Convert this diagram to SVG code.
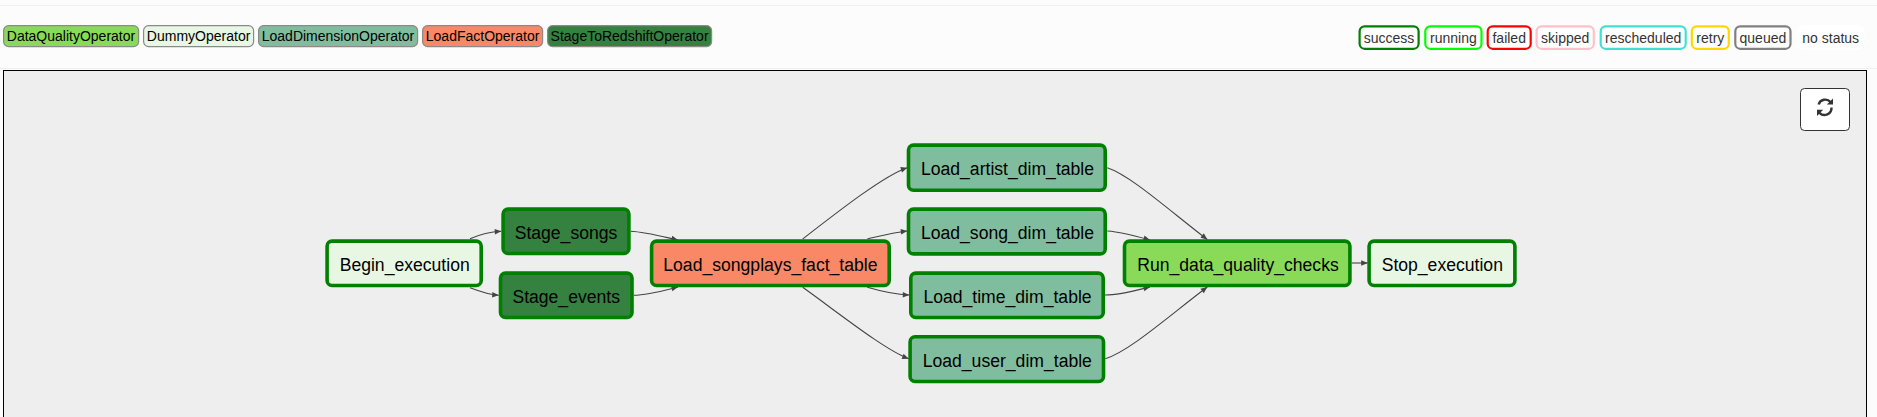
<svg xmlns="http://www.w3.org/2000/svg" width="1877" height="417" viewBox="0 0 1877 417">
<style>
text{font-family:"Liberation Sans",Arial,sans-serif}
.op{stroke:#8a8a8a;stroke-width:1.2}
.opt{font-size:14px;fill:#000;text-anchor:middle}
.st{fill:#fff;stroke-width:2.2}
.stt{font-size:14px;fill:#333;text-anchor:middle}
.n rect{stroke:#008000;stroke-width:3.6}
.n text{font-size:17.6px;fill:#000;text-anchor:middle}
.e{fill:none;stroke:#444;stroke-width:1.1;marker-end:url(#arr)}
.dum{fill:#e8f7e4}.dim{fill:#80bd9e}.fact{fill:#f98866}.stage{fill:#358140}.dq{fill:#89da59}
</style>
<defs>
<marker id="arr" markerUnits="userSpaceOnUse" markerWidth="8" markerHeight="8" viewBox="0 0 8 8" refX="7.5" refY="4" orient="auto"><path d="M1 1.2 L7.5 4 L1 6.8 Z" fill="#444"/></marker>
</defs>
<rect width="1877" height="417" fill="#fcfcfc"/>
<rect x="0" y="5" width="1877" height="1" fill="#f0f0f0"/>
<rect x="0" y="68" width="1877" height="1" fill="#f0f0f0"/>
<rect x="3.5" y="70.5" width="1863" height="360" fill="#eee" stroke="#000" stroke-width="1"/>

<g id="legend-operators">
<rect class="op dq" x="3.6" y="25.6" width="135" height="21" rx="5"/><text class="opt" x="71" y="40.5">DataQualityOperator</text>
<rect class="op dum" x="143.6" y="25.6" width="110" height="21" rx="5"/><text class="opt" x="198.6" y="40.5">DummyOperator</text>
<rect class="op dim" x="258.6" y="25.6" width="159" height="21" rx="5"/><text class="opt" x="338" y="40.5">LoadDimensionOperator</text>
<rect class="op fact" x="422.6" y="25.6" width="120" height="21" rx="5"/><text class="opt" x="482.6" y="40.5">LoadFactOperator</text>
<rect class="op stage" x="547.6" y="25.6" width="164" height="21" rx="5"/><text class="opt" x="629.6" y="40.5">StageToRedshiftOperator</text>
</g>

<g id="legend-status">
<rect class="st" x="1359.6" y="26.4" width="59" height="22.4" rx="5" stroke="#008000"/><text class="stt" x="1389" y="42.5">success</text>
<rect class="st" x="1425.3" y="26.4" width="56.2" height="22.4" rx="5" stroke="#00ff00"/><text class="stt" x="1453.4" y="42.5">running</text>
<rect class="st" x="1487.7" y="26.4" width="43" height="22.4" rx="5" stroke="#ff0000"/><text class="stt" x="1509.2" y="42.5">failed</text>
<rect class="st" x="1536.6" y="26.4" width="57.2" height="22.4" rx="5" stroke="#ffc0cb"/><text class="stt" x="1565.2" y="42.5">skipped</text>
<rect class="st" x="1600.7" y="26.4" width="85" height="22.4" rx="5" stroke="#40e0d0"/><text class="stt" x="1643.2" y="42.5">rescheduled</text>
<rect class="st" x="1691.8" y="26.4" width="37" height="22.4" rx="5" stroke="#ffd700"/><text class="stt" x="1710.3" y="42.5">retry</text>
<rect class="st" x="1735.3" y="26.4" width="55.2" height="22.4" rx="5" stroke="#808080"/><text class="stt" x="1762.9" y="42.5">queued</text>
<rect class="st" x="1797.9" y="26.4" width="65.7" height="22.4" rx="5" stroke="#ffffff"/><text class="stt" x="1830.7" y="42.5">no status</text>
</g>

<g id="refresh-button">
<rect x="1800.5" y="88.5" width="49" height="42" rx="4" fill="#fff" stroke="#333" stroke-width="1"/>
<path d="M1818.6 104.5 A7 7 0 0 1 1830.5 102" fill="none" stroke="#333" stroke-width="2.4"/>
<path d="M1831.5 107.5 A7 7 0 0 1 1819.5 112.8" fill="none" stroke="#333" stroke-width="2.4"/>
<path d="M1833 98.4 V104.6 H1826.8 Z" fill="#333"/>
<path d="M1817 116 V109.8 H1823.2 Z" fill="#333"/>
</g>

<g id="connectors">
<path class="e" d="M470 238.7 C480 234.5 490 232 501.3 231.3"/>
<path class="e" d="M470 287.7 C480 291.5 488 294.5 498.7 295.3"/>
<path class="e" d="M630.7 231.3 C645 232 660 236 678 240"/>
<path class="e" d="M633.8 295.3 C648 295 662 291 678 287"/>
<path class="e" d="M802.7 239 C840 210 885 175 907.3 167.7"/>
<path class="e" d="M867.3 239 C880 236 893 232.5 907.3 231"/>
<path class="e" d="M867.3 287.3 C880 291 895 294.5 909.3 295"/>
<path class="e" d="M802.7 287.3 C840 314 885 350 908.7 358.7"/>
<path class="e" d="M1107.3 167.7 C1130 175 1170 211 1207.3 239.5"/>
<path class="e" d="M1107.3 231 C1122 232 1136 236 1150 240"/>
<path class="e" d="M1105 295 C1120 295 1136 290.5 1150 287"/>
<path class="e" d="M1105.3 358.7 C1130 351 1170 315 1207.3 287"/>
<path class="e" d="M1351.7 263 L1367.7 263"/>
</g>

<g id="Begin_execution" class="n"><rect class="dum" x="327.1" y="241.1" width="154.1" height="44.4" rx="5"/><text x="404.7" y="271">Begin_execution</text></g>
<g id="Stage_songs" class="n"><rect class="stage" x="503.1" y="209.1" width="125.8" height="44.4" rx="5"/><text x="566" y="239">Stage_songs</text></g>
<g id="Stage_events" class="n"><rect class="stage" x="500.5" y="273.1" width="131.5" height="44.4" rx="5"/><text x="566.2" y="303">Stage_events</text></g>
<g id="Load_songplays_fact_table" class="n"><rect class="fact" x="651.6" y="241.1" width="237.6" height="44.4" rx="5"/><text x="770.4" y="271">Load_songplays_fact_table</text></g>
<g id="Load_artist_dim_table" class="n"><rect class="dim" x="908.5" y="145.1" width="196.7" height="45.1" rx="5"/><text x="1007.5" y="175">Load_artist_dim_table</text></g>
<g id="Load_song_dim_table" class="n"><rect class="dim" x="908.5" y="209.1" width="196.7" height="44.8" rx="5"/><text x="1007.5" y="239">Load_song_dim_table</text></g>
<g id="Load_time_dim_table" class="n"><rect class="dim" x="910.8" y="273.1" width="192.4" height="44.4" rx="5"/><text x="1007.5" y="303">Load_time_dim_table</text></g>
<g id="Load_user_dim_table" class="n"><rect class="dim" x="910.1" y="336.8" width="193.4" height="44.7" rx="5"/><text x="1007.3" y="367">Load_user_dim_table</text></g>
<g id="Run_data_quality_checks" class="n"><rect class="dq" x="1124.5" y="241.1" width="225.4" height="44.4" rx="5"/><text x="1238" y="271">Run_data_quality_checks</text></g>
<g id="Stop_execution" class="n"><rect class="dum" x="1369.1" y="241.1" width="145.8" height="44.4" rx="5"/><text x="1442.3" y="271">Stop_execution</text></g>
</svg>
